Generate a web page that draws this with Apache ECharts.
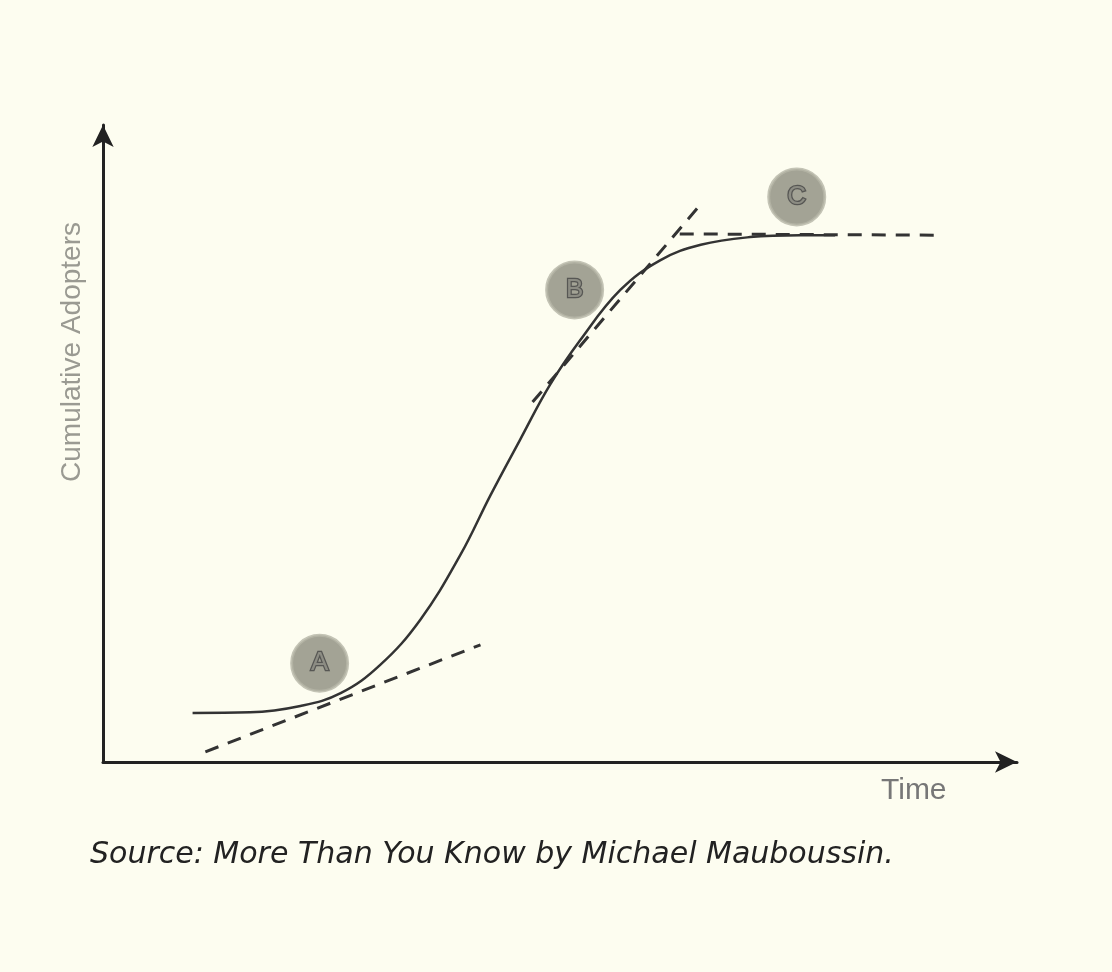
<!DOCTYPE html>
<html><head><meta charset="utf-8">
<script src="https://cdn.jsdelivr.net/npm/echarts@6/dist/echarts.min.js"></script>
<style>html,body{margin:0;padding:0;background:#fdfdf0}#c{width:1112px;height:972px}</style>
</head><body><div id="c"></div>
<script>
const curveX = [9.8,16.1,21.6,26.0,30.3,34.7,39.1,42.4,45.6,48.9,52.2,56.6,61.0,65.4,70.8,76.3,80.1];
const curveY = [7.7,7.8,8.8,10.8,15.2,22.3,32.5,41.9,50.5,59.2,66.2,74.1,78.8,81.2,82.4,82.7,82.7];
const tangentA = [[11.2,1.6],[41.3,18.4]];
const tangentB = [[47.0,56.5],[65.3,87.4]];
const tangentC = [[63.1,82.9],[91.6,82.7]];
const markerNames = ['A','B','C'];
const markerPos = [[23.7,15.5],[51.6,74.1],[75.9,88.7]];

const chart = echarts.init(document.getElementById('c'));
const dash = d => ({type:'line', data:d, symbol:'none', lineStyle:{color:'#333', width:3, type:[14,10]}, z:3});
chart.setOption({
  backgroundColor:'#fdfdf0',
  animation:false,
  grid:{left:103, right:95, top:125, bottom:210},
  xAxis:{type:'value', min:0, max:100, splitLine:{show:false}, axisTick:{show:false}, axisLabel:{show:false},
    axisLine:{onZero:false, symbol:['none','arrow'], symbolSize:[16,22], lineStyle:{color:'#222', width:3}}},
  yAxis:{type:'value', min:0, max:100, splitLine:{show:false}, axisTick:{show:false}, axisLabel:{show:false},
    axisLine:{onZero:false, symbol:['none','arrow'], symbolSize:[16,22], lineStyle:{color:'#222', width:3}}},
  graphic:[
    {type:'text', x:58, y:352, rotation:Math.PI/2, style:{text:'Cumulative Adopters', font:'28px "Liberation Sans", Arial', fill:'#9a9a92', align:'center', verticalAlign:'top'}},
    {type:'text', x:881, y:776, style:{text:'Time', font:'30px "Liberation Sans", Arial', fill:'#777'}},
    {type:'text', x:90, y:840, style:{text:'Source: More Than You Know by Michael Mauboussin.', font:'oblique 30px "DejaVu Sans", Arial', fill:'#222'}}
  ],
  series:[
    {type:'line', data:curveX.map((x,i)=>[x,curveY[i]]), smooth:0.4, symbol:'none', lineStyle:{color:'#333', width:2.5}, z:4},
    dash(tangentA), dash(tangentB), dash(tangentC),
    {type:'scatter', data:markerPos.map((p,i)=>[p[0],p[1],markerNames[i]]), symbolSize:56,
      itemStyle:{color:'#8c8c7e', borderColor:'#b5b5a6', borderWidth:3},
      label:{show:true, formatter:p=>p.data[2], color:'#9a9a8e', fontSize:26, fontFamily:'Liberation Sans', textBorderColor:'#444', textBorderWidth:2.5},
      z:5}
  ]
});
</script></body></html>
